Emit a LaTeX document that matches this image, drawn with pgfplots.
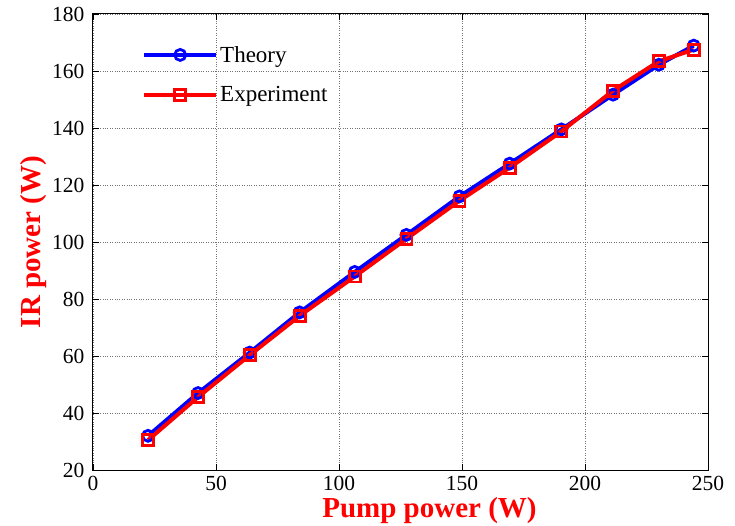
\documentclass[border=0pt]{standalone}
\usepackage{pgfplots}
\pgfplotsset{compat=1.18}
\usepackage{fontspec}
\setmainfont{Liberation Serif}
\usetikzlibrary{calc}
\begin{document}
\begin{tikzpicture}
\begin{axis}[
  name=ax,
  scale only axis,
  width=615pt, height=456pt,
  xmin=0, xmax=250, ymin=20, ymax=180,
  xtick={0,50,...,250}, ytick={20,40,...,180},
  tick align=inside,
  major tick length=6pt,
  tick style={black, line width=0.6pt},
  axis line style={black, line width=1pt},
  grid=major,
  grid style={black!55, dotted, line width=0.8pt},
  /pgf/number format/assume math mode=true,
  ticklabel style={font=\fontsize{21.5}{25}\selectfont, inner sep=1pt},
  xticklabel style={yshift=-5pt},
  yticklabel style={xshift=-7.5pt},
  xlabel={Pump power (W)},
  ylabel={IR power (W)},
  label style={font=\fontsize{29}{34}\selectfont\bfseries, text=red, inner sep=0pt},
  xlabel style={at={(axis description cs:0.5,0)}, anchor=north, yshift=-27.5pt, xshift=29pt},
  ylabel style={yshift=4pt},
  legend style={draw=none, fill=none, at={(0,1)}, anchor=north west,
     xshift=46pt, yshift=-28pt, font=\fontsize{23}{27}\selectfont, row sep=19pt},
  legend cell align=left,
  legend image code/.code={\draw[mark repeat=2,mark phase=2,#1] plot coordinates {(0pt,0pt) (36pt,0pt) (72pt,0pt)};},
]
\addplot[blue, line width=4pt, mark=o, mark size=5.5pt, mark options={line width=2.8pt, solid}]
 coordinates {(22.4,32) (42.7,47) (63.7,61.2) (84,75.3) (106.4,89.5) (127.4,102.5) (149,116) (169.4,127.5) (190.4,139.5) (211.4,151.7) (230,162.2) (244.2,168.9)};
\addlegendentry{Theory}
\addplot[red, line width=4pt, mark=square, mark size=5.5pt, mark options={line width=2.8pt, solid}]
 coordinates {(22.4,30.5) (42.7,45.6) (63.7,60.3) (84,74.1) (106.4,87.9) (127.4,101.1) (149,114.5) (169.4,126.1) (190.4,138.8) (211.4,153.1) (230,163.4) (244.2,167.5)};
\addlegendentry{Experiment}
\end{axis}
\pgfresetboundingbox
\path ($(ax.south west)+(-93pt,-55pt)$) rectangle ($(ax.north east)+(27pt,14pt)$);
\end{tikzpicture}
\end{document}
